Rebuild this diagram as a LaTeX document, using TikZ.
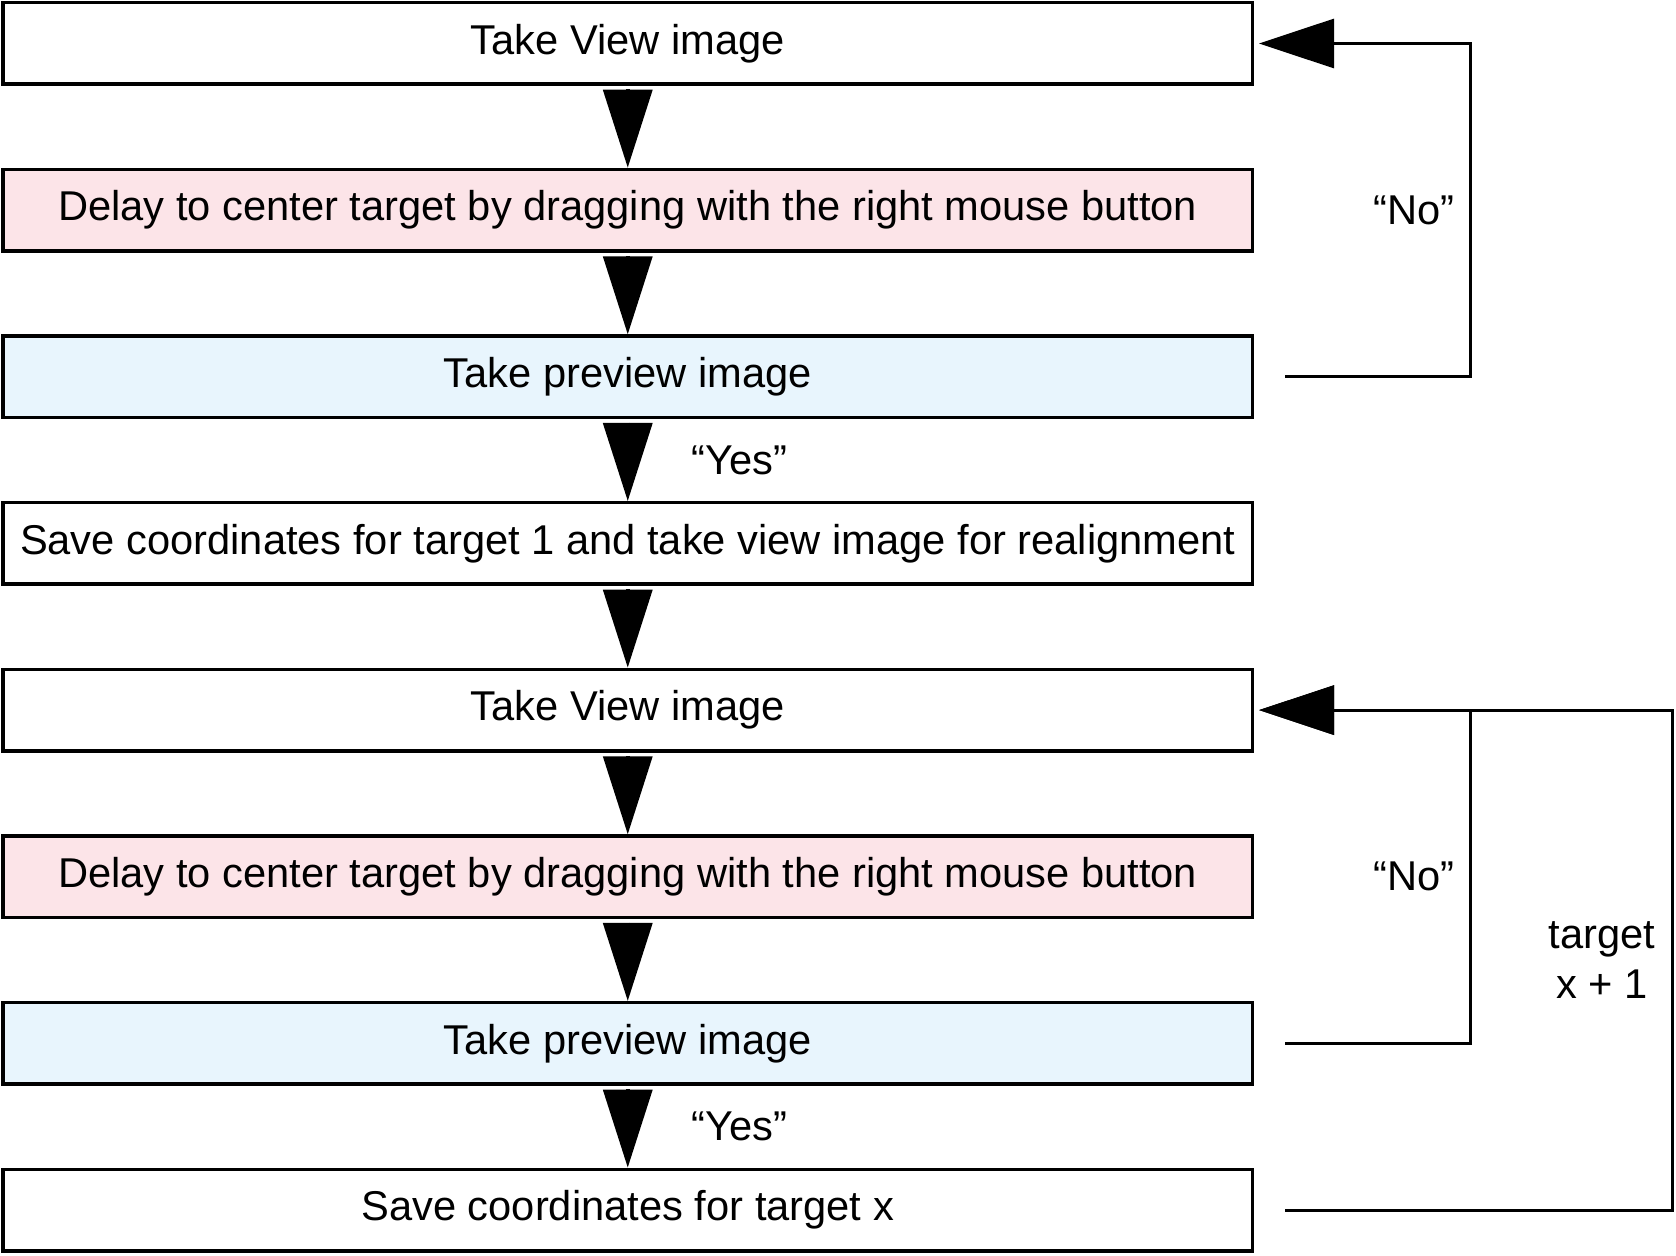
\documentclass[tikz,border=0pt]{standalone}
\usepackage{fontspec}
\setmainfont{Liberation Sans}
\usetikzlibrary{positioning, arrows.meta}

\definecolor{pinkbox}{RGB}{252,228,232}
\definecolor{bluebox}{RGB}{232,245,253}

\begin{document}
\begin{tikzpicture}[node distance=1.703cm,line width=0.07cm,font=\fontsize{23.7}{28.5}\selectfont]
\tikzstyle{box}=[draw=black,fill=white,minimum width=24.99cm,minimum height=1.63cm,inner sep=0.1cm,outer sep=0pt]
\tikzstyle{down}=[-{Triangle[length=1.56cm,width=0.98cm]},shorten <=0.1cm,shorten >=0.035cm]
\tikzstyle{back}=[-{Triangle[length=1.5cm,width=0.98cm]},line width=0.06cm,shorten <=0.65cm,shorten >=0.13cm]
\tikzstyle{lbl}=[inner sep=0pt]
\useasboundingbox (0,0) rectangle (33.52,-25.12);

\node[box] (V1) at (12.555,-0.87) {Take View image};
\node[box,fill=pinkbox] (D1) [below=of V1] {Delay to center target by dragging with the right mouse button};
\node[box,fill=bluebox] (P1) [below=of D1] {Take preview image};
\node[box] (S1) [below=of P1] {Save coordinates for target 1 and take view image for realignment};
\node[box] (V2) [below=of S1] {Take View image};
\node[box,fill=pinkbox] (D2) [below=of V2] {Delay to center target by dragging with the right mouse button};
\node[box,fill=bluebox] (P2) [below=of D2] {Take preview image};
\node[box] (S2) [below=of P2] {Save coordinates for target x};

\path[down]
(V1) edge (D1)
(D1) edge (P1)
(P1) edge node[lbl,right=1.24cm]{“Yes”} (S1)
(S1) edge (V2)
(V2) edge (D2)
(D2) edge (P2)
(P2) edge node[lbl,right=1.24cm]{“Yes”} (S2);

% loops back to the view image
\draw[back] (P1.east) -- ++(4.36,0) |- node[lbl,pos=0.25,left=0.29cm]{“No”} (V1.east);
\draw[back] (P2.east) -- ++(4.36,0) |- node[lbl,pos=0.25,left=0.29cm]{“No”} (V2.east);
\draw[back] (S2.east) -- ++(8.40,0) |- node[lbl,pos=0.25,left=0.32cm,align=center]{target\\x + 1} (V2.east);
\end{tikzpicture}
\end{document}
